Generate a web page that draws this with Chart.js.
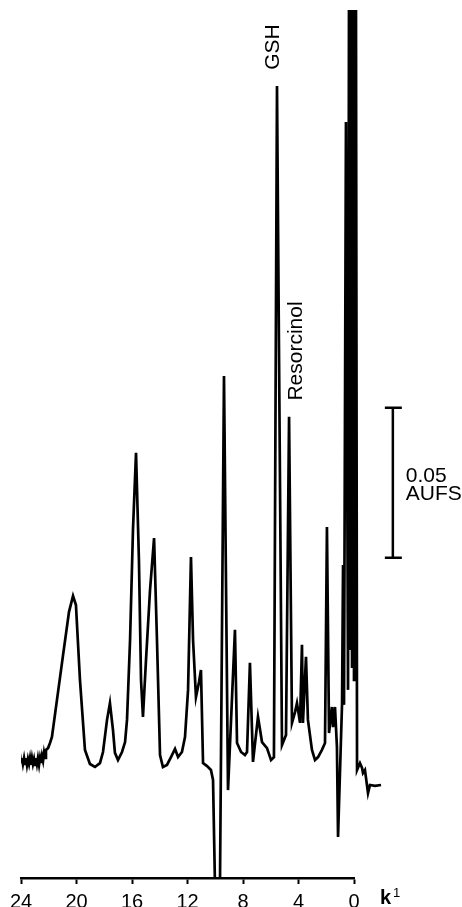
<!DOCTYPE html>
<html>
<head>
<meta charset="utf-8">
<script src="https://cdn.jsdelivr.net/npm/chart.js@4.4.1/dist/chart.umd.min.js"></script>
<style>
  html, body { margin: 0; padding: 0; background: #fff; overflow: hidden; }
  canvas { display: block; }
</style>
</head>
<body>
<canvas id="chart" width="462" height="907"></canvas>
<script>
// capacity factor k' (axis runs 24 -> 0, left to right)
const kValues = [
  24.43, 24.36, 24.29, 24.22, 24.14, 24.07, 24.00, 23.93, 23.86, 23.78, 23.71, 23.64, 23.57, 23.50,
  23.42, 23.35, 23.28, 23.21, 23.14, 23.06, 22.99, 22.92, 22.85, 22.78, 22.70, 22.63, 22.56, 22.49,
  22.41, 22.34, 22.27, 22.20, 22.05, 21.91,
  21.77, 21.41, 20.97, 20.54, 20.25, 20.04, 19.75, 19.39, 19.03, 18.67, 18.31, 18.09, 17.80, 17.59,
  17.37, 17.23, 17.01, 16.72, 16.50, 16.36, 16.14, 15.93, 15.71, 15.50, 15.35, 15.21, 14.99, 14.70,
  14.41, 14.20, 13.98, 13.77, 13.48, 13.19, 12.90, 12.68, 12.40, 12.18, 11.96, 11.75, 11.60, 11.39,
  11.17, 11.03, 10.88, 10.59, 10.31, 10.16, 10.02, 9.66, 9.37, 9.08, 8.58, 8.43, 8.14, 7.86, 7.71,
  7.50, 7.28, 6.92, 6.63, 6.27, 5.98, 5.77, 5.55, 5.19, 4.90, 4.68, 4.47, 4.25, 4.11, 3.89, 3.75,
  3.68, 3.46, 3.32, 3.03, 2.81, 2.59, 2.31, 2.09, 1.95, 1.80, 1.59, 1.51, 1.37, 1.23, 1.15, 0.86,
  0.79, 0.72, 0.58, 0.43, 0.36, 0.29, 0.22, 0.14, 0.07, 0.00, -0.07, -0.14, -0.22, -0.43, -0.58,
  -0.65, -0.79, -1.01, -1.15, -1.51, -1.95
];
// detector response, mAU above the axis line
const absorbance = [
  44.3, 43.7, 40.7, 42.0, 39.3, 41.0, 38.7, 40.0, 38.0, 40.0, 38.0, 40.0, 37.7, 39.7,
  38.0, 40.0, 37.7, 40.0, 38.0, 39.7, 37.7, 40.0, 38.0, 40.0, 37.7, 40.0, 38.3, 40.7,
  39.0, 41.7, 40.0, 42.7, 43.3, 45.0,
  47.0, 59.3, 74.3, 88.7, 94.0, 91.0, 66.0, 42.7, 38.0, 37.0, 38.3, 42.0, 52.7, 58.3,
  49.3, 41.7, 39.3, 42.0, 45.3, 52.7, 79.3, 116.0, 141.7, 106.0, 66.0, 53.7, 72.7, 96.0,
  113.3, 79.3, 41.0, 37.0, 37.7, 40.3, 43.0, 40.3, 42.0, 47.0, 62.7, 107.0, 79.3, 60.3,
  65.3, 69.3, 38.3, 37.3, 36.0, 32.7, -2.3, -2.3, 167.3, 29.3, 82.7, 45.0, 42.0, 41.0, 42.0,
  71.7, 38.7, 53.7, 45.3, 43.3, 39.3, 40.3, 264.0, 44.3, 47.7, 153.7, 51.7, 55.3, 58.3, 51.7, 77.7,
  51.7, 73.7, 52.7, 42.7, 39.3, 40.3, 42.7, 45.0, 117.0, 48.3, 57.0, 50.3, 57.0, 43.7, 13.7, 58.3,
  104.3, 57.7, 252.0, 62.7, 300.0, 76.0, 300.0, 70.0, 300.0, 66.0, 300.0, 300.0, 36.0, 38.3, 36.7,
  35.0, 36.0, 28.3, 31.0, 30.7, 31.0
];
const tickLabels = [24, 20, 16, 12, 8, 4, 0];
const peakNames = ['GSH', 'Resorcinol'];
const peakK = [5.55, 4.68];
const scaleBarK = -2.8;
const scaleBarRange = [106.7, 156.7]; // 0.05 AUFS
const scaleBarText = ['0.05', 'AUFS'];

const FONT = '"Liberation Sans", Arial, Helvetica, sans-serif';
Chart.defaults.font.family = FONT;
Chart.defaults.color = '#000';

const annotations = {
  id: 'annotations',
  afterDraw(chart) {
    const { ctx, scales: { x, y } } = chart;
    ctx.save();
    ctx.fillStyle = '#000';
    ctx.strokeStyle = '#000';

    // peak names, written upwards
    ctx.font = '21px ' + FONT;
    ctx.textAlign = 'center';
    ctx.textBaseline = 'alphabetic';
    const spots = [[x.getPixelForValue(peakK[0]) + 2, 47], [x.getPixelForValue(peakK[1]) + 13, 351]];
    peakNames.forEach((name, i) => {
      ctx.save();
      ctx.translate(spots[i][0], spots[i][1]);
      ctx.rotate(-Math.PI / 2);
      ctx.fillText(name, 0, 0);
      ctx.restore();
    });

    // scale bar
    const xb = x.getPixelForValue(scaleBarK);
    const y1 = y.getPixelForValue(scaleBarRange[1]);
    const y2 = y.getPixelForValue(scaleBarRange[0]);
    ctx.lineWidth = 2.5;
    ctx.beginPath();
    ctx.moveTo(xb, y1); ctx.lineTo(xb, y2);
    ctx.moveTo(xb - 8, y1); ctx.lineTo(xb + 9, y1);
    ctx.moveTo(xb - 8, y2); ctx.lineTo(xb + 9, y2);
    ctx.stroke();
    const mid = (y1 + y2) / 2;
    ctx.textAlign = 'left';
    ctx.fillText(scaleBarText[0], xb + 13, mid - 1);
    ctx.fillText(scaleBarText[1], xb + 13, mid + 17);

    // axis name k'
    ctx.font = 'bold 20px ' + FONT;
    ctx.fillText('k', x.right + 26, 904);
    ctx.font = '13px ' + FONT;
    ctx.fillText('1', x.right + 39, 897);
    ctx.restore();
  }
};

new Chart(document.getElementById('chart'), {
  type: 'line',
  data: {
    datasets: [{
      data: kValues.map((k, i) => ({ x: k, y: absorbance[i] })),
      borderColor: '#000',
      borderWidth: 2.7,
      pointRadius: 0,
      tension: 0,
      fill: false,
      clip: { left: 0, top: 0, right: 40, bottom: 0 }
    }]
  },
  options: {
    responsive: false,
    animation: false,
    layout: { padding: { left: 21, right: 108, top: 10, bottom: 0 } },
    plugins: { legend: { display: false }, tooltip: { enabled: false } },
    scales: {
      x: {
        type: 'linear',
        reverse: true,
        min: 0,
        max: 24,
        afterBuildTicks: s => { s.ticks = tickLabels.map(v => ({ value: v })); },
        afterFit: s => { s.height = 29; },
        ticks: { autoSkip: false, maxRotation: 0, padding: 6, font: { size: 20 }, color: '#000' },
        grid: { drawOnChartArea: false, drawTicks: true, tickLength: 6, tickWidth: 2, tickColor: '#000' },
        border: { display: true, color: '#000', width: 2.5 }
      },
      y: {
        display: false,
        min: 0,
        max: 289.3
      }
    }
  },
  plugins: [annotations]
});
</script>
</body>
</html>
